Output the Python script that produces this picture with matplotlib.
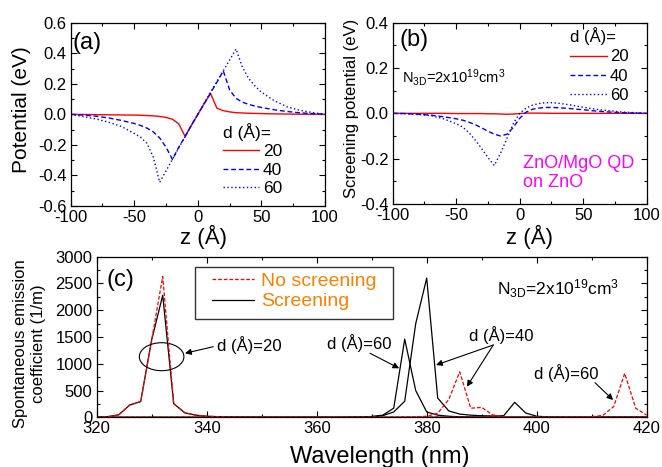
import matplotlib
matplotlib.use('Agg')
import matplotlib.pyplot as plt
from matplotlib.patches import Ellipse, Rectangle
from matplotlib.ticker import MultipleLocator, FormatStrFormatter

# ---------------- data ----------------
z = [-100, -90, -80, -70, -60, -50, -45, -40, -35, -30, -25, -20, -15, -10, -5, 0,
     5, 10, 15, 20, 25, 30, 35, 40, 45, 50, 60, 70, 80, 90, 100]

pot_d20 = [0, -0.001, -0.002, -0.003, -0.004, -0.005, -0.006, -0.008, -0.010, -0.014,
           -0.020, -0.032, -0.062, -0.145, -0.070, 0.0, 0.070, 0.137, 0.040, 0.024,
           0.016, 0.011, 0.009, 0.007, 0.006, 0.005, 0.003, 0.002, 0.001, 0.0005, 0]
pot_d40 = [0, -0.005, -0.012, -0.024, -0.040, -0.060, -0.073, -0.090, -0.115, -0.155,
           -0.215, -0.295, -0.215, -0.145, -0.070, 0.0, 0.070, 0.140, 0.210, 0.285,
           0.160, 0.105, 0.080, 0.065, 0.054, 0.045, 0.030, 0.019, 0.010, 0.005, 0]
pot_d60 = [0, -0.015, -0.030, -0.052, -0.080, -0.125, -0.150, -0.190, -0.280, -0.445,
           -0.370, -0.295, -0.220, -0.145, -0.072, 0.0, 0.072, 0.145, 0.215, 0.285,
           0.355, 0.428, 0.310, 0.235, 0.185, 0.145, 0.090, 0.050, 0.027, 0.012, 0]

scr_d20 = [0, 0, 0, 0, 0, -0.001, -0.001, -0.001, -0.001, -0.001, -0.002, -0.002,
           -0.003, -0.004, -0.003, -0.001, 0.001, 0.001, 0.001, 0.0005, 0, 0, 0, 0, 0,
           0, 0, 0, 0, 0, 0]
scr_d40 = [0, -0.001, -0.004, -0.008, -0.015, -0.024, -0.030, -0.039, -0.050, -0.064,
           -0.079, -0.092, -0.100, -0.092, -0.062, -0.022, 0.005, 0.018, 0.023, 0.026,
           0.026, 0.025, 0.023, 0.021, 0.018, 0.016, 0.010, 0.006, 0.003, 0.001, 0]
scr_d60 = [0, -0.002, -0.005, -0.010, -0.024, -0.046, -0.060, -0.085, -0.118, -0.155,
           -0.195, -0.230, -0.175, -0.110, -0.045, 0.0, 0.023, 0.036, 0.043, 0.047,
           0.047, 0.045, 0.041, 0.037, 0.032, 0.027, 0.018, 0.012, 0.006, 0.003, 0]

wavelength = list(range(320, 422, 2))
spec_scr_d20 = [5, 12, 45, 230, 295, 1450, 2280, 255, 85, 40, 20, 12, 8, 6, 5, 4,
                3, 3, 3, 3, 3, 3, 3, 3, 3, 2, 2, 2, 2, 2, 2, 2, 2, 2, 2, 2,
                2, 2, 2, 2, 2, 2, 2, 2, 2, 2, 2, 2, 2, 2, 2]
spec_noscr_d20 = [5, 12, 45, 230, 295, 1450, 2630, 255, 85, 40, 20, 12, 8, 6, 5, 4,
                  3, 3, 3, 3, 3, 3, 3, 3, 3, 2, 2, 2, 2, 2, 2, 2, 2, 2, 2, 2,
                  2, 2, 2, 2, 2, 2, 2, 2, 2, 2, 2, 2, 2, 2, 2]
spec_scr_d40 = [0, 0, 0, 0, 0, 0, 0, 0, 0, 0, 0, 0, 0, 0, 0, 0, 0, 0, 0, 0, 0, 0, 0, 0,
                5, 10, 30, 100, 300, 1750, 2600, 360, 120, 60, 40, 30, 25, 30, 280, 80, 20,
                8, 4, 2, 2, 2, 2, 2, 2, 2, 2]
spec_scr_d60 = [0, 0, 0, 0, 0, 0, 0, 0, 0, 0, 0, 0, 0, 0, 0, 0, 0, 0, 0, 0, 0, 0, 0, 3,
                6, 15, 40, 170, 1460, 500, 100, 40, 20, 10, 6, 4, 2, 2, 2, 2, 2,
                2, 2, 2, 2, 2, 2, 2, 2, 2, 2]
spec_noscr_d40 = [0, 0, 0, 0, 0, 0, 0, 0, 0, 0, 0, 0, 0, 0, 0, 0, 0, 0, 0, 0, 0, 0, 0, 0,
                  0, 0, 0, 0, 3, 8, 20, 75, 330, 850, 170, 185, 45, 15, 6, 3, 2,
                  2, 2, 2, 2, 2, 2, 2, 2, 2, 2]
spec_noscr_d60 = [0, 0, 0, 0, 0, 0, 0, 0, 0, 0, 0, 0, 0, 0, 0, 0, 0, 0, 0, 0, 0, 0, 0, 0,
                  0, 0, 0, 0, 0, 0, 0, 0, 0, 0, 0, 0, 0, 0, 0, 0, 0,
                  0, 2, 4, 6, 12, 35, 200, 820, 170, 40]

d_labels = ['20', '40', '60']

# ---------------- style ----------------
plt.rcParams.update({
    'font.family': ['Liberation Sans', 'DejaVu Sans'],
    'mathtext.fontset': 'custom',
    'mathtext.rm': 'Liberation Sans',
    'mathtext.it': 'Liberation Sans:italic',
    'axes.unicode_minus': False,
    'xtick.direction': 'in', 'ytick.direction': 'in',
    'xtick.top': True, 'ytick.right': True,
    'xtick.major.size': 4, 'ytick.major.size': 4,
    'xtick.minor.size': 2.2, 'ytick.minor.size': 2.2,
    'xtick.major.width': 0.8, 'ytick.major.width': 0.8,
    'xtick.minor.width': 0.8, 'ytick.minor.width': 0.8,
    'xtick.major.pad': 3, 'ytick.major.pad': 3,
    'axes.linewidth': 0.9,
    'xtick.labelsize': 12, 'ytick.labelsize': 12,
})

RED = '#ff0000'
BLUE = '#0000ff'
ORANGE = '#ff8000'
DASH = (0, (3.5, 2))
DOT = (0, (1, 1.8))

fig = plt.figure(figsize=(6.62, 4.67), dpi=100)
axA = fig.add_axes([0.1068, 0.5589, 0.3841, 0.3925])
axB = fig.add_axes([0.5932, 0.5632, 0.3837, 0.3882])
axC = fig.add_axes([0.1461, 0.1064, 0.8308, 0.3439])

# ---------- panel (a) ----------
la1, = axA.plot(z, pot_d20, color=RED, lw=1.0, ls='-', label=d_labels[0])
la2, = axA.plot(z, pot_d40, color=BLUE, lw=1.0, ls=DASH, label=d_labels[1])
la3, = axA.plot(z, pot_d60, color=BLUE, lw=1.0, ls=DOT, label=d_labels[2])
axA.set_xlim(-100, 100)
axA.set_ylim(-0.6, 0.6)
axA.xaxis.set_major_locator(MultipleLocator(50))
axA.xaxis.set_minor_locator(MultipleLocator(25))
axA.yaxis.set_major_locator(MultipleLocator(0.2))
axA.yaxis.set_minor_locator(MultipleLocator(0.1))
axA.yaxis.set_major_formatter(FormatStrFormatter('%.1f'))
axA.text(-98.5, 0.47, '(a)', fontsize=17, va='center', ha='left')
legA = axA.legend(handles=[la1, la2, la3], title='d (Å)=', alignment='left',
                  frameon=False, fontsize=12.5, title_fontsize=12.5,
                  loc='upper left', bbox_to_anchor=(0.599, 0.455),
                  borderpad=0, borderaxespad=0, handlelength=2.1,
                  handletextpad=0.2, labelspacing=0.2)

# ---------- panel (b) ----------
lb1, = axB.plot(z, scr_d20, color=RED, lw=1.0, ls='-', label=d_labels[0])
lb2, = axB.plot(z, scr_d40, color=BLUE, lw=1.0, ls=DASH, label=d_labels[1])
lb3, = axB.plot(z, scr_d60, color=BLUE, lw=1.0, ls=DOT, label=d_labels[2])
axB.set_xlim(-100, 100)
axB.set_ylim(-0.4, 0.4)
axB.xaxis.set_major_locator(MultipleLocator(50))
axB.xaxis.set_minor_locator(MultipleLocator(25))
axB.yaxis.set_major_locator(MultipleLocator(0.2))
axB.yaxis.set_minor_locator(MultipleLocator(0.1))
axB.yaxis.set_major_formatter(FormatStrFormatter('%.1f'))
axB.text(-94.5, 0.323, '(b)', fontsize=17, va='center', ha='left')
axB.text(-93, 0.156, r'N$_\mathregular{3D}$=2x10$^\mathregular{19}$cm$^\mathregular{3}$',
         fontsize=10.5, va='center', ha='left')
axB.text(2.8, -0.263, 'ZnO/MgO QD\non ZnO', color='#ff00ff', fontsize=13,
         va='center', ha='left', linespacing=1.1)
legB = axB.legend(handles=[lb1, lb2, lb3], title='d (Å)=', alignment='left',
                  frameon=False, fontsize=12, title_fontsize=12,
                  loc='upper left', bbox_to_anchor=(0.698, 0.975),
                  borderpad=0, borderaxespad=0, handlelength=2.2,
                  handletextpad=0.2, labelspacing=0.25)

# ---------- panel (c) ----------
axC.plot(wavelength, spec_scr_d20, color='black', lw=0.9)
axC.plot(wavelength, spec_scr_d40, color='black', lw=0.9)
lc_s, = axC.plot(wavelength, spec_scr_d60, color='black', lw=0.9, label='Screening')
axC.plot(wavelength, spec_noscr_d20, color=RED, lw=0.9, ls=(0, (3, 1.5)))
axC.plot(wavelength, spec_noscr_d40, color=RED, lw=0.9, ls=(0, (3, 1.5)))
lc_n, = axC.plot(wavelength, spec_noscr_d60, color=RED, lw=0.9, ls=(0, (3, 1.5)),
                 label='No screening')
axC.set_xlim(320, 420)
axC.set_ylim(0, 3000)
axC.xaxis.set_major_locator(MultipleLocator(20))
axC.xaxis.set_minor_locator(MultipleLocator(10))
axC.yaxis.set_major_locator(MultipleLocator(500))
axC.yaxis.set_minor_locator(MultipleLocator(250))
axC.text(321.7, 2565, '(c)', fontsize=17, va='center', ha='left')
axC.text(392.7, 2410, r'N$_\mathregular{3D}$=2x10$^\mathregular{19}$cm$^\mathregular{3}$',
         fontsize=12.5, va='center', ha='left')

legC = axC.legend(handles=[lc_n, lc_s], frameon=False, fontsize=14,
                  loc='upper left', bbox_to_anchor=(0.209, 0.905),
                  borderpad=0, borderaxespad=0, handlelength=2.2,
                  handletextpad=0.35, labelspacing=0.17)
for t in legC.get_texts():
    t.set_color(ORANGE)
axC.add_patch(Rectangle((0.1787, 0.610), 0.3605, 0.3238, transform=axC.transAxes,
                        facecolor='none', edgecolor='#333333', lw=1.0))

axC.add_patch(Ellipse((331.8, 1132), 8.1, 523, facecolor='none', edgecolor='black', lw=0.8))

arrow = dict(arrowstyle='-|>', color='black', lw=0.8, mutation_scale=9,
             shrinkA=0, shrinkB=0)
axC.text(341.8, 1350, 'd (Å)=20', fontsize=12, va='center', ha='left')
axC.annotate('', xy=(336.05, 1196), xytext=(341.2, 1319), arrowprops=arrow)
axC.text(361.8, 1382, 'd (Å)=60', fontsize=12, va='center', ha='left')
axC.annotate('', xy=(375.0, 915), xytext=(369.7, 1196), arrowprops=arrow)
axC.text(387.6, 1537, 'd (Å)=40', fontsize=12, va='center', ha='left')
axC.annotate('', xy=(381.7, 977), xytext=(392.1, 1351), arrowprops=arrow)
axC.annotate('', xy=(387.3, 572), xytext=(392.1, 1351), arrowprops=arrow)
axC.text(399.5, 822, 'd (Å)=60', fontsize=12, va='center', ha='left')
axC.annotate('', xy=(413.9, 323), xytext=(410.6, 646), arrowprops=arrow)

# ---------- axis labels ----------
fig.text(0.0328, 1 - 110 / 467, 'Potential (eV)', rotation=90, fontsize=15,
         va='center', ha='center')
fig.text(351.7 / 662, 1 - 108 / 467, 'Screening potential (eV)', rotation=90,
         fontsize=12, va='center', ha='center')
fig.text(204 / 662, 1 - 236.7 / 467, 'z (Å)', fontsize=16, va='center', ha='center')
fig.text(530 / 662, 1 - 236.7 / 467, 'z (Å)', fontsize=16, va='center', ha='center')
fig.text(29.2 / 662, 1 - 344 / 467, 'Spontaneous emission\ncoefficient (1/m)',
         rotation=90, fontsize=12, va='center', ha='center', linespacing=1.25,
         multialignment='center')
fig.text(380 / 662, 1 - 463 / 467, 'Wavelength (nm)', fontsize=17,
         va='baseline', ha='center')

fig.savefig('out.png', dpi=100)
